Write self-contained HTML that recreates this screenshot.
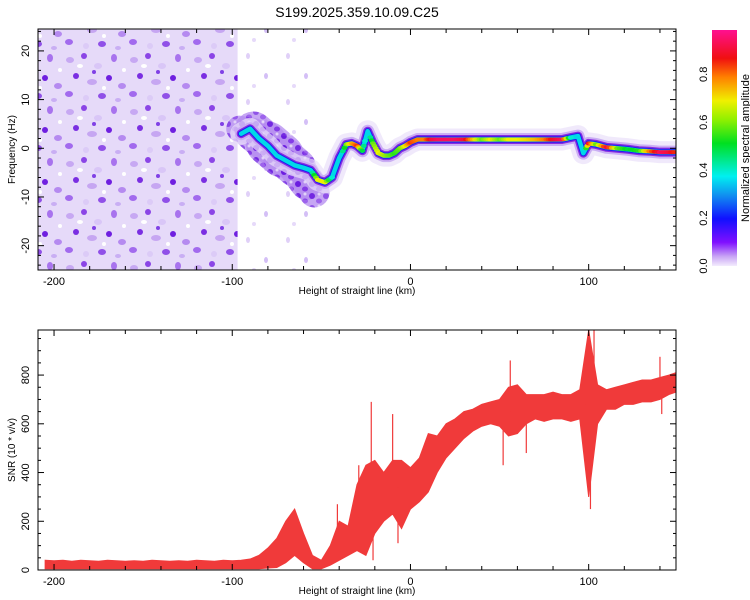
<!DOCTYPE html>
<html><head><meta charset="utf-8"><style>
body{margin:0;background:#fff;}
svg{display:block;font-family:"Liberation Sans",sans-serif;}
</style></head><body>
<svg id="c" width="750" height="600" viewBox="0 0 750 600">
<defs>
<pattern id="noise" width="64" height="52" patternUnits="userSpaceOnUse">
<rect width="64" height="52" fill="#e6daf9"/>
<ellipse cx="6" cy="8" rx="4" ry="3" fill="#c7a8f3"/>
<ellipse cx="20" cy="4" rx="3" ry="3" fill="#8b45e6"/>
<ellipse cx="34" cy="14" rx="4" ry="3" fill="#d9c6f7"/>
<ellipse cx="50" cy="6" rx="3" ry="4" fill="#a873ee"/>
<ellipse cx="12" cy="24" rx="3" ry="3" fill="#7a2ee2"/>
<ellipse cx="28" cy="30" rx="5" ry="3" fill="#c6a6f2"/>
<ellipse cx="45" cy="26" rx="3" ry="3" fill="#6f1fe0"/>
<ellipse cx="58" cy="34" rx="4" ry="3" fill="#b58af0"/>
<ellipse cx="5" cy="42" rx="4" ry="3" fill="#a26aee"/>
<ellipse cx="22" cy="46" rx="3" ry="3" fill="#dccbf7"/>
<ellipse cx="38" cy="44" rx="4" ry="3" fill="#9050e8"/>
<ellipse cx="54" cy="48" rx="3" ry="2" fill="#c9aef4"/>
<ellipse cx="30" cy="20" rx="2" ry="2" fill="#8040e6"/>
<ellipse cx="60" cy="18" rx="2" ry="2" fill="#fff"/>
<ellipse cx="16" cy="14" rx="3" ry="2" fill="#fff"/>
<ellipse cx="40" cy="36" rx="2" ry="2" fill="#fff"/>
</pattern>
<pattern id="noise2" width="40" height="46" patternUnits="userSpaceOnUse">
<ellipse cx="8" cy="10" rx="2" ry="3" fill="#e0d0f8"/>
<ellipse cx="26" cy="30" rx="2" ry="3" fill="#d4bff6"/>
<ellipse cx="14" cy="40" rx="2" ry="2" fill="#e6dafa"/>
</pattern>
<pattern id="clump" width="14" height="12" patternUnits="userSpaceOnUse">
<rect width="14" height="12" fill="#b48af0"/>
<ellipse cx="4" cy="4" rx="3" ry="3" fill="#6a1ae0"/>
<ellipse cx="11" cy="9" rx="3" ry="2.5" fill="#7d30e6"/>
<ellipse cx="11" cy="2" rx="1.5" ry="1.5" fill="#e0d0f8"/>
</pattern>
<linearGradient id="cbar" x1="0" y1="1" x2="0" y2="0">
<stop offset="0" stop-color="#f3ecfd"/>
<stop offset="0.04" stop-color="#c9a6f5"/>
<stop offset="0.1" stop-color="#8010ff"/>
<stop offset="0.2" stop-color="#1010ff"/>
<stop offset="0.3" stop-color="#1090f0"/>
<stop offset="0.38" stop-color="#00f0f0"/>
<stop offset="0.52" stop-color="#00e020"/>
<stop offset="0.62" stop-color="#90f000"/>
<stop offset="0.7" stop-color="#f0f000"/>
<stop offset="0.8" stop-color="#ff8000"/>
<stop offset="0.88" stop-color="#f01010"/>
<stop offset="1" stop-color="#ff1090"/>
</linearGradient>
<clipPath id="clipTop"><rect x="38" y="29" width="638" height="241"/></clipPath>
<clipPath id="clipBot"><rect x="38" y="330" width="638" height="240"/></clipPath>
</defs>
<text x="357" y="17" font-size="14" text-anchor="middle">S199.2025.359.10.09.C25</text>
<g id="top"></g>
<g id="bot"></g>
<g id="cb"></g>
</svg>
<script>
// ---- data ----
const ridgeKm  = [-95,-90,-85,-80,-75,-70,-65,-60,-56,-52,-48,-44,-40,-36,-33,-30,-27,-24,-21,-18,-15,-12,-9,-6,-3,0,4,8,12,16,20,25,30,35,40,45,50,55,60,65,70,75,80,85,90,94,97,100,104,110,116,122,128,134,140,145,149];
const ridgeHz  = [3,4,2,0.5,-1.5,-2.5,-3.5,-4,-4.5,-6.5,-7,-6,-2,0.8,1,0.5,-0.5,3.5,1,-1,-1.5,-1.5,-1,0,0.5,1.2,1.8,1.8,1.8,1.8,1.8,1.8,1.8,1.8,1.8,1.8,1.8,1.8,1.8,1.8,1.8,1.8,1.8,1.8,2.2,2.5,-1,1,0.8,0.2,0,-0.2,-0.5,-0.6,-0.8,-0.8,-0.8];
const ridgeAmp = [0.3,0.3,0.3,0.28,0.3,0.3,0.25,0.28,0.35,0.7,0.7,0.4,0.3,0.6,0.75,0.85,0.5,0.3,0.6,0.7,0.65,0.6,0.55,0.6,0.7,0.85,0.8,0.8,0.92,0.95,0.95,0.95,0.92,0.75,0.6,0.7,0.6,0.7,0.7,0.72,0.75,0.8,0.9,0.95,0.4,0.3,0.2,0.9,0.6,0.92,0.6,0.5,0.55,0.8,0.95,0.92,0.85];
const clusterKm = [-96,-88,-80,-72,-64,-58,-54];
const clusterHz = [4,3.5,1,-1.5,-4,-7,-9];
const clusterW  = [6,9,10,9,8,7,4];
const snrKm = [-205,-200,-195,-190,-185,-180,-175,-170,-165,-160,-155,-150,-145,-140,-135,-130,-125,-120,-115,-110,-105,-100,-95,-90,-85,-80,-75,-70,-65,-60,-55,-50,-45,-40,-35,-30,-25,-20,-15,-10,-5,0,5,10,15,20,25,30,35,40,45,50,55,60,65,70,75,80,85,90,95,100,105,110,115,120,125,130,135,140,145,149];
const snrLo = [5,5,5,5,5,5,5,5,5,5,5,5,5,5,5,5,5,5,5,5,5,5,5,5,5,8,10,30,60,30,5,5,20,40,60,80,60,150,200,230,170,250,280,320,400,460,500,540,570,590,600,590,550,560,600,620,610,620,620,610,620,300,600,660,660,680,680,690,690,700,720,730];
const snrHi = [40,38,40,36,40,38,36,40,38,36,38,36,40,38,36,38,36,40,38,36,40,38,40,45,60,90,130,200,250,150,60,40,100,200,180,350,430,450,400,450,450,420,460,560,550,600,620,650,660,680,690,700,750,760,720,720,720,730,720,720,740,985,760,740,750,760,770,780,780,790,800,810];
const spikeKm  = [-41,-29,-22,-21,-10,-7,52,56,65,98,100,101,103,140,141];
const spikeVal = [270,430,690,40,640,110,430,860,480,450,985,250,985,875,640];
const xTicks = [-200,-100,0,100];
const hzTicks = [-20,-10,0,10,20];
const snrTicks = [0,200,400,600,800];
const cbTicks = [0,0.2,0.4,0.6,0.8];

// ---- scales ----
const X0=38,X1=676,KM0=-209,KM1=149;
const xs = v => X0+(v-KM0)/(KM1-KM0)*(X1-X0);
const TY0=29,TY1=270,HZ0=-25,HZ1=24.5;
const ys = v => TY1-(v-HZ0)/(HZ1-HZ0)*(TY1-TY0);
const BY0=330,BY1=570,S1=985;
const yb = v => BY1-v/S1*(BY1-BY0);
const CY0=30,CY1=266,CX=712,CW=25;
const yc = v => CY1-v/0.985*(CY1-CY0);
const hzPx = h => h*(TY1-TY0)/(HZ1-HZ0);

const NS="http://www.w3.org/2000/svg";
function mk(tag,attrs,parent){const e=document.createElementNS(NS,tag);for(const k in attrs)e.setAttribute(k,attrs[k]);parent.appendChild(e);return e;}
function ampColor(a){
  const st=[[0,[240,230,252]],[0.1,[128,16,255]],[0.2,[16,16,255]],[0.38,[0,240,240]],[0.52,[0,224,32]],[0.7,[240,240,0]],[0.8,[255,128,0]],[0.88,[240,16,16]],[1,[255,16,144]]];
  for(let i=1;i<st.length;i++){if(a<=st[i][0]){const t=(a-st[i-1][0])/(st[i][0]-st[i-1][0]);const c=st[i-1][1].map((v,j)=>Math.round(v+(st[i][1][j]-v)*t));return 'rgb('+c.join(',')+')';}}
  return 'rgb(255,16,144)';
}

// ---- top panel ----
const topG=document.getElementById('top');
const tg=mk('g',{'clip-path':'url(#clipTop)'},topG);
let r=mk('rect',{x:X0,y:TY0,width:xs(-97)-X0,height:TY1-TY0,fill:'url(#noise)'},tg);


r=mk('rect',{x:xs(-97),y:TY0,width:xs(-55)-xs(-97),height:TY1-TY0,fill:'url(#noise2)'},tg);


clusterKm.forEach((k,i)=>{
  if(i===clusterKm.length-1) return;
  const l=mk('line',{x1:xs(k),y1:ys(clusterHz[i]),x2:xs(clusterKm[i+1]),y2:ys(clusterHz[i+1]),stroke:'url(#clump)','stroke-width':hzPx(clusterW[i])*0.9,'stroke-linecap':'round',opacity:0.75},tg);
  
  
});
const pts=ridgeKm.map((k,i)=>xs(k)+','+ys(ridgeHz[i])).join(' ');
const layers=[[22,'#eadff9',0.7],[13,'#c7a8f3',0.9],[9,'#8a2be2',1],[6.5,'#2020f0',1],[4.5,'#00d8e8',1]];
layers.forEach(([w,c,o],li)=>{
  const p=mk('polyline',{points:pts,fill:'none',stroke:c,'stroke-width':w,'stroke-linejoin':'round','stroke-linecap':'round',opacity:o},tg);
  
  
});
ridgeKm.forEach((k,i)=>{
  if(i<ridgeKm.length-1){
    const steps=4;
    for(let s=0;s<steps;s++){
      const t=s/steps;
      const kk=k+(ridgeKm[i+1]-k)*t, hh=ridgeHz[i]+(ridgeHz[i+1]-ridgeHz[i])*t, aa=ridgeAmp[i]+(ridgeAmp[i+1]-ridgeAmp[i])*t;
      if(aa<0.4) continue;
      const e=mk('ellipse',{cx:xs(kk),cy:ys(hh),rx:3,ry:2,fill:ampColor(aa)},tg);
      
      
    }
  }
});
mk('rect',{x:X0,y:TY0,width:X1-X0,height:TY1-TY0,fill:'none',stroke:'#000','stroke-width':1},topG);

function xAxis(g,yT,yB){
  for(let k=-200;k<=140;k+=20){const x=xs(k);const L=(k%100===0)?6:4;
    mk('line',{x1:x,y1:yB,x2:x,y2:yB-L,stroke:'#000'},g);mk('line',{x1:x,y1:yT,x2:x,y2:yT+L,stroke:'#000'},g);}
  xTicks.forEach(v=>{const t=mk('text',{x:xs(v),y:yB+15,'font-size':11,'text-anchor':'middle'},g);t.textContent=v;
    
    });
  const t=mk('text',{x:357,y:yB+24,'font-size':10,'text-anchor':'middle'},g);t.textContent='Height of straight line (km)';
  
  
}
xAxis(topG,TY0,TY1);
for(let h=-24;h<=24;h+=2){const y=ys(h);const L=(h%10===0)?6:3;
  mk('line',{x1:X0,y1:y,x2:X0+L,y2:y,stroke:'#000'},topG);mk('line',{x1:X1,y1:y,x2:X1-L,y2:y,stroke:'#000'},topG);}
hzTicks.forEach(v=>{const t=mk('text',{x:0,y:0,'font-size':11,'text-anchor':'middle',transform:'translate(29,'+ys(v)+') rotate(-90)'},topG);t.textContent=v;
  
  });
let yt=mk('text',{x:0,y:0,'font-size':10,'text-anchor':'middle',transform:'translate(15,'+((TY0+TY1)/2)+') rotate(-90)'},topG);yt.textContent='Frequency (Hz)';



// ---- bottom panel ----
const botG=document.getElementById('bot');
const bg=mk('g',{'clip-path':'url(#clipBot)'},botG);
let poly=snrKm.map((k,i)=>xs(k)+','+yb(snrHi[i])).join(' ')+' '+snrKm.slice().reverse().map((k,i)=>xs(k)+','+yb(snrLo[snrKm.length-1-i])).join(' ');
let band=mk('polygon',{points:poly,fill:'#f03a3a',stroke:'#f03a3a','stroke-width':1},bg);


spikeKm.forEach((k,i)=>{
  let j=0;while(j<snrKm.length-1&&snrKm[j+1]<k)j++;
  const mid=(snrLo[j]+snrHi[j])/2;
  const l=mk('line',{x1:xs(k),y1:yb(mid),x2:xs(k),y2:yb(spikeVal[i]),stroke:'#f03a3a','stroke-width':1.2},bg);
  
  
});
mk('rect',{x:X0,y:BY0,width:X1-X0,height:BY1-BY0,fill:'none',stroke:'#000','stroke-width':1},botG);
xAxis(botG,BY0,BY1);
for(let s=0;s<=950;s+=50){const y=yb(s);const L=(s%200===0)?6:3;
  mk('line',{x1:X0,y1:y,x2:X0+L,y2:y,stroke:'#000'},botG);mk('line',{x1:X1,y1:y,x2:X1-L,y2:y,stroke:'#000'},botG);}
snrTicks.forEach(v=>{const t=mk('text',{x:0,y:0,'font-size':11,'text-anchor':'middle',transform:'translate(29,'+yb(v)+') rotate(-90)'},botG);t.textContent=v;
  
  });
yt=mk('text',{x:0,y:0,'font-size':10,'text-anchor':'middle',transform:'translate(15,'+((BY0+BY1)/2)+') rotate(-90)'},botG);yt.textContent='SNR (10 * v/v)';



// ---- colorbar ----
const cbG=document.getElementById('cb');
mk('rect',{x:CX,y:CY0,width:CW,height:CY1-CY0,fill:'url(#cbar)'},cbG);
cbTicks.forEach(v=>{const t=mk('text',{x:0,y:0,'font-size':11,'text-anchor':'middle',transform:'translate(707,'+yc(v)+') rotate(-90)'},cbG);t.textContent=v.toFixed(1);
  
  });
const ct=mk('text',{x:0,y:0,'font-size':11,'text-anchor':'middle',transform:'translate(749,'+((CY0+CY1)/2)+') rotate(-90)'},cbG);ct.textContent='Normalized spectral amplitude';


</script>
</body></html>
